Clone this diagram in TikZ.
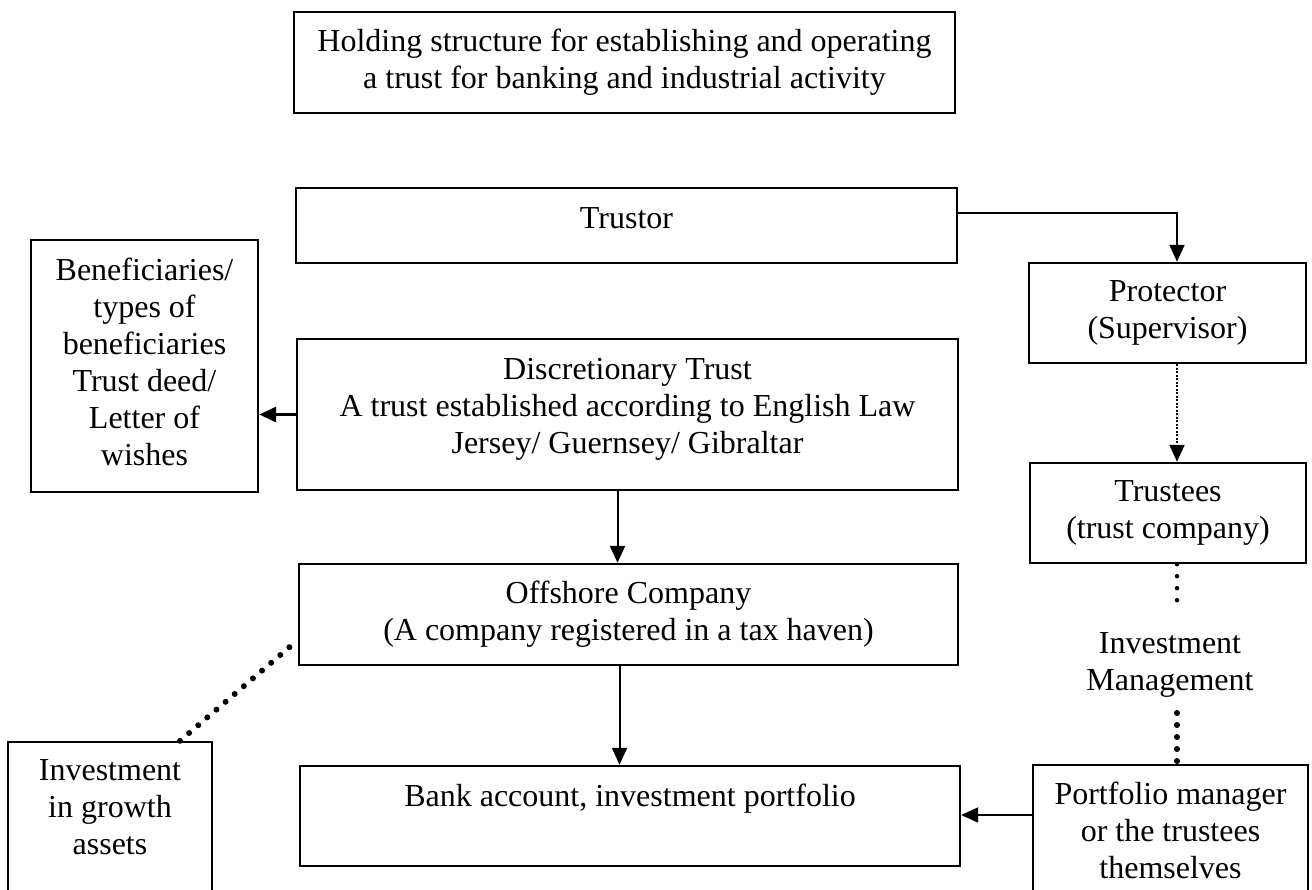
\documentclass[tikz,border=0pt]{standalone}
\usepackage{fontspec}
\setmainfont{Liberation Serif}
\usetikzlibrary{arrows.meta}
\begin{document}
\begin{tikzpicture}[x=1pt,y=-1pt,
  every node/.style={font=\fontsize{32}{37}\selectfont},
  box/.style={draw, line width=2.4pt, align=center, inner sep=0pt},
  arr/.style={line width=2pt, -{Triangle[length=17pt,width=15pt]}},
  thickarr/.style={line width=3pt, -{Triangle[length=17pt,width=15pt]}},
  dotarr/.style={line width=2pt, dash pattern=on 2pt off 1.5pt, -{Triangle[length=17pt,width=15pt]}},
  smalldots/.style={line width=4.5pt, line cap=round, dash pattern=on 0pt off 12pt},
  bigdots/.style={line width=6pt, line cap=round, dash pattern=on 0pt off 12pt}]
\useasboundingbox (0,0) rectangle (1312,889);

% boxes
\node[box, minimum width=661pt, minimum height=101pt] (title) at (624.5,62.5)
  {Holding structure for establishing and operating\\a trust for banking and industrial activity};
\node[box, minimum width=661pt, minimum height=75pt, text depth=15pt] (trustor) at (626.5,225.5) {Trustor};
\node[box, minimum width=661pt, minimum height=151pt, text depth=17pt] (disc) at (627.5,414.5)
  {Discretionary Trust\\A trust established according to English Law\\Jersey/ Guernsey/ Gibraltar};
\node[box, minimum width=659pt, minimum height=101pt] (offshore) at (628.5,614.5)
  {Offshore Company\\(A company registered in a tax haven)};
\node[box, minimum width=660pt, minimum height=100pt, text depth=41pt] (bank) at (630,816)
  {Bank account, investment portfolio};
\node[box, minimum width=227pt, minimum height=252pt, text depth=8pt] (bene) at (144.5,366)
  {Beneficiaries/\\types of\\beneficiaries\\Trust deed/\\Letter of\\wishes};
\node[box, minimum width=204pt, minimum height=154pt, text depth=24pt] (invest) at (110,819)
  {Investment\\in growth\\assets};
\node[box, minimum width=277pt, minimum height=100pt] (protector) at (1167.5,313)
  {Protector\\(Supervisor)};
\node[box, minimum width=276pt, minimum height=100pt] (trustees) at (1168,513)
  {Trustees\\(trust company)};
\node[box, minimum width=275pt, minimum height=131pt] (portfolio) at (1170.5,830.5)
  {Portfolio manager\\or the trustees\\themselves};
\node[align=center, inner sep=0pt] (imtext) at (1170,664.5) {Investment\\Management};

\coordinate (imtop) at (1177,612);
\coordinate (imbot) at (1177,713);

% connectors
\draw[arr] ([yshift=12.5pt]trustor.east) -| ([xshift=9.5pt]protector.north);
\draw[dotarr] ([xshift=9.5pt]protector.south) -- ([xshift=9.5pt]protector.south |- trustees.north);
\draw[smalldots] ([xshift=9pt]trustees.south) -- (imtop);
\draw[bigdots] (imbot) -- (imbot |- portfolio.north);
\draw[thickarr] (disc.west) -- (disc.west -| bene.east);
\draw[arr] ([xshift=-10pt]disc.south) -- ([xshift=-10pt]disc.south |- offshore.north);
\draw[arr] ([xshift=-9pt]offshore.south) -- ([xshift=-9pt]offshore.south |- bank.north);
\draw[arr] ([yshift=15.5pt]portfolio.west) -- ([yshift=15.5pt]portfolio.west -| bank.east);
\draw[bigdots] ([xshift=70pt]invest.north) -- ([yshift=-25.5pt]offshore.west);
\end{tikzpicture}
\end{document}
